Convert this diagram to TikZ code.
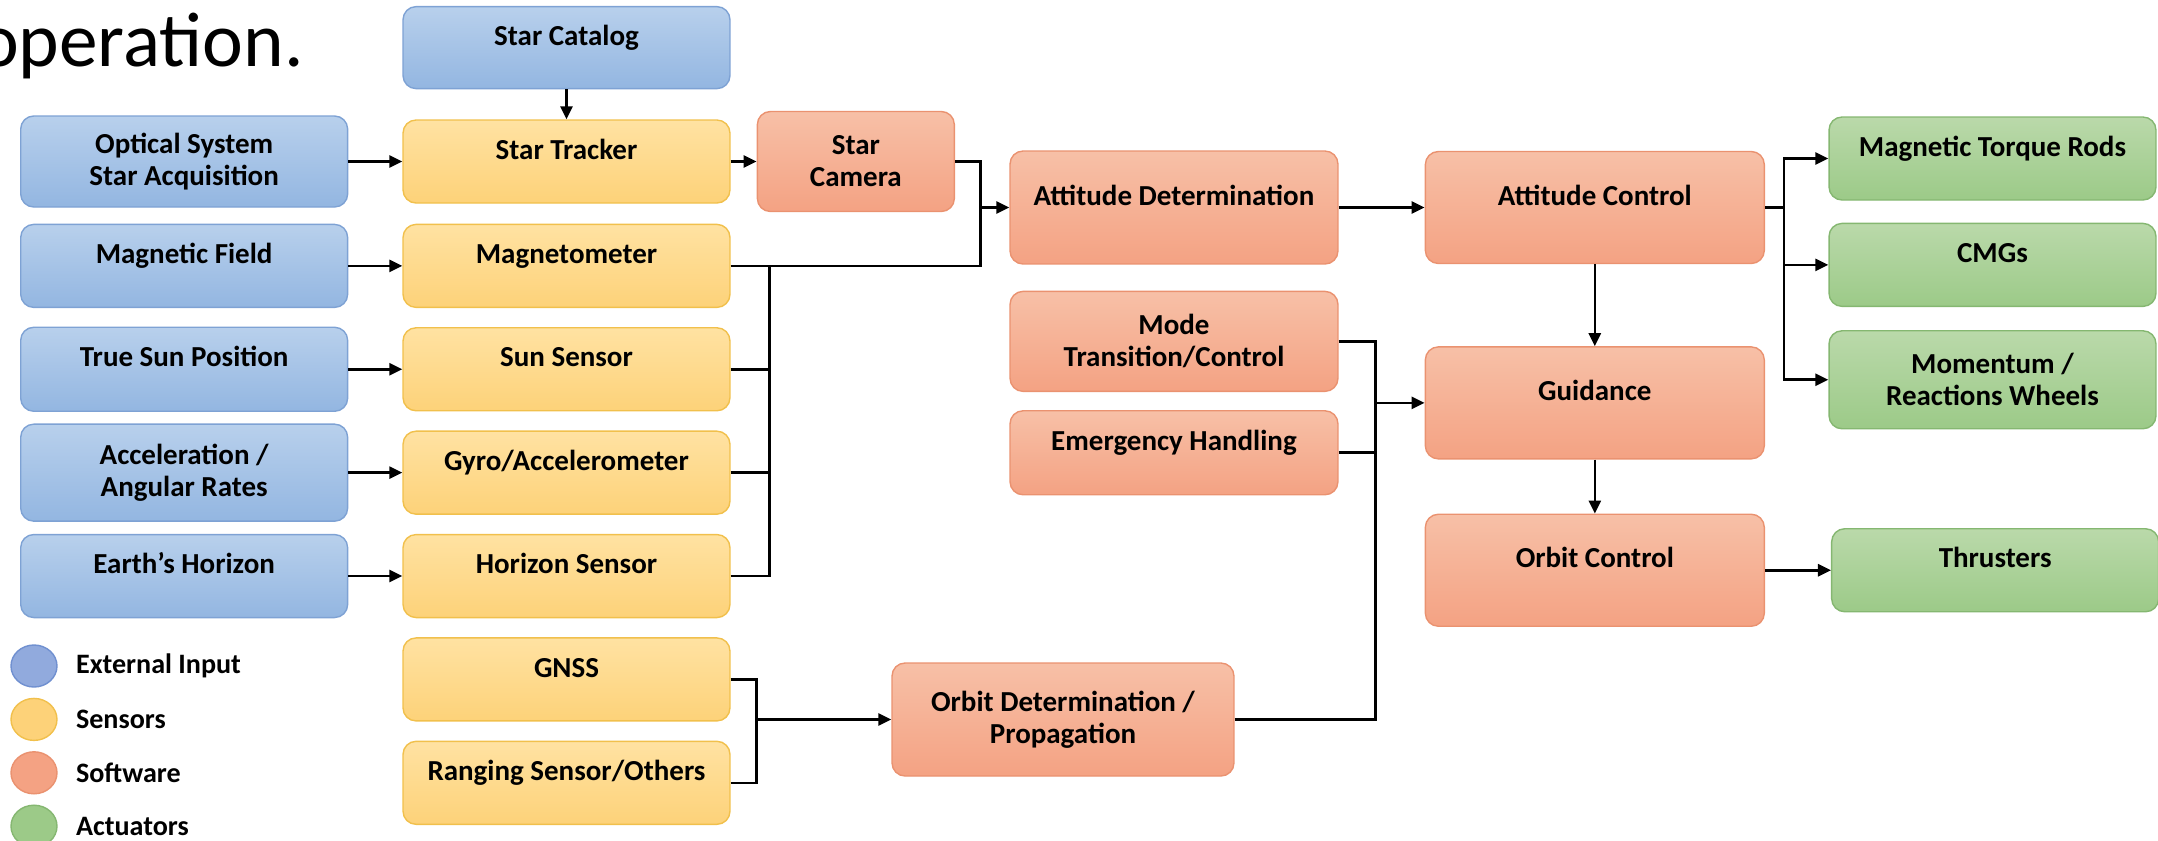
\documentclass[tikz,border=0pt]{standalone}
\usepackage{fontspec}
\setmainfont{Carlito}
\usepackage{xcolor}
\usepackage{tikz}
\usetikzlibrary{shapes.geometric, arrows.meta, positioning, calc}

\definecolor{bluetop}{HTML}{B8D0EC}
\definecolor{bluebot}{HTML}{93B6E1}
\definecolor{bluedraw}{HTML}{7EA2D4}
\definecolor{bluedot}{HTML}{91AADD}
\definecolor{bluedotdraw}{HTML}{7090D0}
\definecolor{yeltop}{HTML}{FFE2A2}
\definecolor{yelbot}{HTML}{FDD279}
\definecolor{yeldraw}{HTML}{F1C04C}
\definecolor{ortop}{HTML}{F7C0A7}
\definecolor{orbot}{HTML}{F4A283}
\definecolor{ordraw}{HTML}{EA9270}
\definecolor{grtop}{HTML}{BAD9AA}
\definecolor{grbot}{HTML}{9CCA88}
\definecolor{grdraw}{HTML}{85B771}

\begin{document}
\begin{tikzpicture}[
        x=0.02cm, y=-0.02cm,
        box/.style={rectangle, rounded corners=0.26cm, minimum width=6.54cm, minimum height=1.66cm, text centered, align=center, line width=0.8pt, inner sep=2pt, font=\fontsize{16.5pt}{18.2pt}\selectfont\bfseries},
        lift/.style={text height=11.5pt, text depth=14.2pt},
        extin/.style={box, draw=bluedraw, top color=bluetop, bottom color=bluebot},
        sensor/.style={box, draw=yeldraw, top color=yeltop, bottom color=yelbot},
        software/.style={box, draw=ordraw, top color=ortop, bottom color=orbot},
        actuator/.style={box, draw=grdraw, top color=grtop, bottom color=grbot},
        dot/.style={ellipse, minimum width=0.92cm, minimum height=0.84cm, inner sep=0pt, line width=0.8pt},
        legend/.style={inner sep=0pt, anchor=west, font=\fontsize{16pt}{18pt}\selectfont\bfseries},
        arrow/.style={line width=1.5pt, -{Triangle[length=0.26cm, width=0.24cm]}},
        line/.style={line width=1.5pt}
    ]
    \useasboundingbox (0,0) rectangle (2158,840);

    \node (optext) [anchor=base east, inner sep=0pt, font=\fontsize{44pt}{44pt}\selectfont] at (304,66) {operation.};

    % sensors
    \node (startrk) [sensor, lift] at (566.5,161.5) {Star Tracker};
    \node (starcat) [extin, lift, minimum height=1.64cm, above=0.6cm of startrk] {Star Catalog};
    \node (magneto) [sensor, lift, below=0.4cm of startrk] {Magnetometer};
    \node (sunsen) [sensor, lift, below=0.38cm of magneto] {Sun Sensor};
    \node (gyro) [sensor, lift, below=0.38cm of sunsen] {Gyro/Accelerometer};
    \node (horsen) [sensor, lift, below=0.38cm of gyro] {Horizon Sensor};
    \node (gnss) [sensor, lift, below=0.38cm of horsen] {GNSS};
    \node (ranging) [sensor, lift, below=0.38cm of gnss] {Ranging Sensor/Others};

    % external inputs
    \node (optical) [extin, minimum height=1.82cm, left=1.08cm of startrk] {Optical System\\Star Acquisition};
    \node (magfield) [extin, lift, left=1.08cm of magneto] {Magnetic Field};
    \node (truesun) [extin, lift, minimum height=1.68cm, left=1.08cm of sunsen] {True Sun Position};
    \node (accel) [extin, minimum height=1.94cm, left=1.08cm of gyro] {Acceleration /\\Angular Rates};
    \node (earthhor) [extin, lift, left=1.08cm of horsen] {Earth's Horizon};

    % software
    \node (starcam) [software, minimum width=3.94cm, minimum height=2cm, right=0.52cm of startrk] {Star\\Camera};
    \node (ad) [software, lift, minimum width=6.56cm, minimum height=2.26cm] at (1174,207.5) {Attitude Determination};
    \node (mode) [software, minimum width=6.56cm, minimum height=2cm, below=0.52cm of ad] {Mode\\Transition/Control};
    \node (emerg) [software, lift, minimum width=6.56cm, minimum height=1.68cm, below=0.36cm of mode] {Emergency Handling};
    \node (od) [software, minimum width=6.84cm, minimum height=2.26cm] at (1063,719.5) {Orbit Determination /\\Propagation};
    \node (ac) [software, lift, minimum width=6.78cm, minimum height=2.24cm, right=1.72cm of ad] {Attitude Control};
    \node (guid) [software, lift, minimum width=6.78cm, minimum height=2.24cm, below=1.64cm of ac] {Guidance};
    \node (oc) [software, lift, minimum width=6.78cm, minimum height=2.24cm, below=1.08cm of guid] {Orbit Control};

    % actuators
    \node (mtr) [actuator, lift] at (1992.5,158.5) {Magnetic Torque Rods};
    \node (cmgs) [actuator, lift, below=0.44cm of mtr] {CMGs};
    \node (momentum) [actuator, minimum height=1.96cm, below=0.46cm of cmgs] {Momentum /\\Reactions Wheels};
    \node (thrust) [actuator, lift, right=1.32cm of oc] {Thrusters};

    % legend
    \node (lgext) [dot, draw=bluedotdraw, fill=bluedot] at (34,666) {};
    \node (lgsens) [dot, draw=yeldraw, fill=yelbot, below=0.2cm of lgext] {};
    \node (lgsoft) [dot, draw=ordraw, fill=orbot, below=0.2cm of lgsens] {};
    \node (lgact) [dot, draw=grdraw, fill=grbot, below=0.2cm of lgsoft] {};
    \node (lgexttxt) [legend, right=0.36cm of lgext] {External Input};
    \node (lgsenstxt) [legend, right=0.36cm of lgsens] {Sensors};
    \node (lgsofttxt) [legend, right=0.36cm of lgsoft] {Software};
    \node (lgacttxt) [legend, right=0.36cm of lgact] {Actuators};

    % junctions
    \coordinate [left=0.58cm of ad.west] (adin);
    \coordinate [right=0.78cm of magneto.east] (snsbus);
    \coordinate [right=0.38cm of ac.east] (acbus);
    \coordinate [left=0.98cm of guid.west] (gdin);
    \coordinate [left=2.7cm of od.west] (odin);

    \draw [arrow] (starcat) -- (startrk);
    \draw [arrow] (optical) -- (startrk);
    \draw [arrow] (magfield) -- (magneto);
    \draw [arrow] (truesun) -- (sunsen);
    \draw [arrow] (accel) -- (gyro);
    \draw [arrow] (earthhor) -- (horsen);
    \draw [arrow] (startrk) -- (starcam);

    \draw [arrow] (starcam.east) -| (adin) -- (ad);
    \draw [line] (magneto.east) -| (adin);
    \draw [line] (sunsen.east) -| (snsbus);
    \draw [line] (gyro.east) -| (snsbus);
    \draw [line] (horsen.east) -| (snsbus);

    \draw [line] (gnss.east) -| (odin);
    \draw [line] (ranging.east) -| (odin);
    \draw [arrow] (odin) -- (od);

    \draw [arrow] (ad) -- (ac);
    \draw [line] (ac.east) -- (acbus);
    \draw [arrow] (acbus) |- (mtr);
    \draw [arrow] (acbus) |- (cmgs);
    \draw [arrow] (acbus) |- (momentum);

    \draw [line] (mode.east) -| (gdin);
    \draw [line] (emerg.east) -| (gdin);
    \draw [line] (od.east) -| (gdin);
    \draw [arrow] (gdin) -- (guid);

    \draw [arrow] (ac) -- (guid);
    \draw [arrow] (guid) -- (oc);
    \draw [arrow] (oc) -- (thrust);

\end{tikzpicture}
\end{document}
